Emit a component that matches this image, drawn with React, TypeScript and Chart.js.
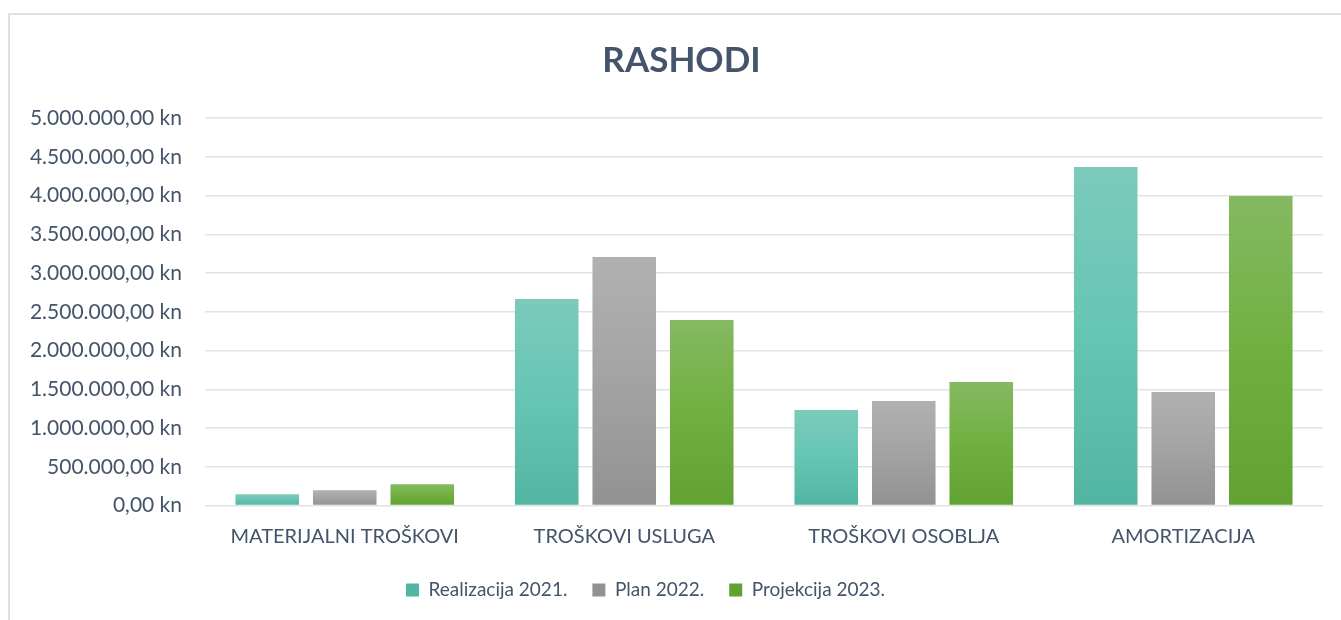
import React, { useEffect, useRef } from "react";
import { Chart, registerables } from "chart.js";

Chart.register(...registerables);

const categories = ["MATERIJALNI TROŠKOVI", "TROŠKOVI USLUGA", "TROŠKOVI OSOBLJA", "AMORTIZACIJA"];
const seriesNames = ["Realizacija 2021.", "Plan 2022.", "Projekcija 2023."];
const realizacija2021 = [146000, 2664000, 1231000, 4369000];
const plan2022 = [198000, 3206000, 1347000, 1463000];
const projekcija2023 = [275000, 2393000, 1592000, 3994000];
const yMin = 0;
const yMax = 5000000;
const yStep = 500000;

const gradients = [
  ["#7ccabb", "#65c5b3", "#52b5a1"],
  ["#b1b1b1", "#a3a3a3", "#929292"],
  ["#85b962", "#70b040", "#61a232"],
];

function formatKn(v: number): string {
  const fixed = Math.abs(v).toFixed(2);
  const [intPart, dec] = fixed.split(".");
  const withDots = intPart.replace(/\B(?=(\d{3})+(?!\d))/g, ".");
  return (v < 0 ? "-" : "") + withDots + "," + dec + " kn";
}

function barFill(idx: number) {
  return (ctx: any) => {
    const stops = gradients[idx];
    if (ctx.type !== "data") return stops[1];
    const chart = ctx.chart;
    const y = chart.scales && chart.scales.y;
    if (!y || !chart.chartArea) return stops[1];
    const top = y.getPixelForValue(ctx.raw);
    const bottom = y.getPixelForValue(0);
    if (!isFinite(top) || !isFinite(bottom) || top === bottom) return stops[1];
    const g = chart.ctx.createLinearGradient(0, top, 0, bottom);
    g.addColorStop(0, stops[0]);
    g.addColorStop(0.5, stops[1]);
    g.addColorStop(1, stops[2]);
    return g;
  };
}

const boxShift = {
  id: "boxShift",
  afterLayout(chart: any, _args: any, opts: any) {
    const l = chart.legend;
    if (l && opts && opts.legend) {
      l.left += opts.legend;
      l.right += opts.legend;
    }
    const t = chart.titleBlock;
    if (t && opts && opts.title) {
      t.left += opts.title;
      t.right += opts.title;
    }
  },
};

export default function App() {
  const ref = useRef<HTMLCanvasElement | null>(null);

  useEffect(() => {
    document.body.style.overflow = "hidden";
    const canvas = ref.current;
    if (!canvas) return;
    const textColor = "#44546a";
    const chart = new Chart(canvas, {
      type: "bar",
      data: {
        labels: categories,
        datasets: [
          { label: seriesNames[0], data: realizacija2021, backgroundColor: barFill(0) },
          { label: seriesNames[1], data: plan2022, backgroundColor: barFill(1) },
          { label: seriesNames[2], data: projekcija2023, backgroundColor: barFill(2) },
        ],
      },
      plugins: [boxShift],
      options: {
        responsive: false,
        animation: false,
        devicePixelRatio: 1,
        layout: { padding: { left: 0, right: 18, top: 0, bottom: 10.5 } },
        datasets: {
          bar: { categoryPercentage: 0.832, barPercentage: 0.82, borderWidth: 0 },
        },
        plugins: {
          boxShift: { legend: -16, title: 20 },
          title: {
            display: true,
            text: "RASHODI",
            color: textColor,
            font: { family: "Lato", size: 35, weight: "bold", lineHeight: 1.2 },
            padding: { top: 39.5, bottom: 36.5 },
          },
          legend: {
            display: true,
            position: "bottom",
            labels: {
              color: textColor,
              font: { family: "Lato", size: 19 },
              boxWidth: 13,
              boxHeight: 13,
              padding: 25,
            },
          },
          tooltip: { enabled: false },
        },
        scales: {
          x: {
            grid: { display: false, drawTicks: false },
            border: { display: false },
            ticks: {
              color: textColor,
              font: { family: "Lato", size: 20, lineHeight: 1.2 },
              padding: 19.5,
              maxRotation: 0,
              autoSkip: false,
            },
            afterFit: (s: any) => {
              s.height = 50;
            },
          },
          y: {
            min: yMin,
            max: yMax,
            grid: { color: "#dfe3e8", lineWidth: 1.5, drawTicks: false },
            border: { display: false },
            ticks: {
              stepSize: yStep,
              color: textColor,
              font: { family: "Lato", size: 21 },
              padding: 23,
              callback: (v: any) => formatKn(Number(v)),
            },
            afterFit: (s: any) => {
              s.width = 205;
            },
          },
        },
      },
    });
    return () => chart.destroy();
  }, []);

  return (
    <>
      <div
        style={{
          position: "fixed",
          left: 8,
          top: 13,
          width: 1500,
          height: 800,
          borderLeft: "2px solid #dde2e8",
          borderTop: "2px solid #dde2e8",
          boxSizing: "border-box",
        }}
      />
      <canvas
        ref={ref}
        width={1341}
        height={620}
        style={{ position: "fixed", left: 0, top: 0, width: 1341, height: 620 }}
      />
    </>
  );
}
